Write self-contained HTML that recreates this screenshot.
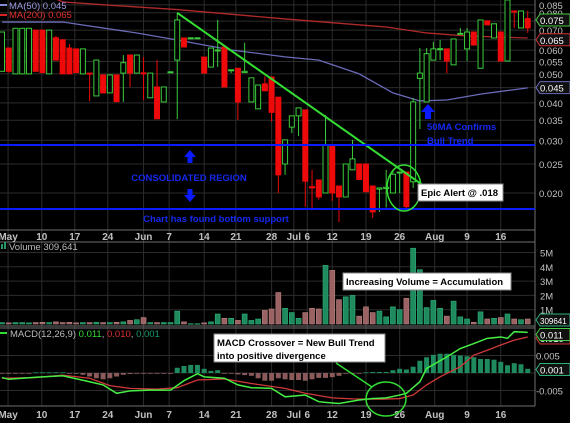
<!DOCTYPE html>
<html><head><meta charset="utf-8">
<style>
html,body{margin:0;padding:0;background:#000;}
svg{display:block;font-family:"Liberation Sans",sans-serif;}
</style></head>
<body>
<svg id="chart" width="570" height="423" viewBox="0 0 570 423" xmlns="http://www.w3.org/2000/svg">
<rect x="0" y="0" width="570" height="423" fill="#000"/>
<g id="grid"></g>
<g id="main"></g>
<g id="vol"></g>
<g id="macd"></g>
<g id="axes"></g>
<g id="ann">
  <line x1="0" y1="145" x2="535" y2="145" stroke="#0a1cff" stroke-width="2"/>
  <line x1="0" y1="209" x2="535" y2="209" stroke="#0a1cff" stroke-width="2"/>
  <path d="M190,150 l-6,7 h3.5 v6 h5 v-6 h3.5 z" fill="#0a1cff"/>
  <path d="M190,202 l-6,-7 h3.5 v-6 h5 v6 h3.5 z" fill="#0a1cff"/>
  <text x="189" y="181" fill="#1428ee" font-size="9.5" font-weight="bold" text-anchor="middle">CONSOLIDATED REGION</text>
  <text x="216" y="222" fill="#1428ee" font-size="9.5" font-weight="bold" text-anchor="middle">Chart has found bottom support</text>
  <path d="M428,104 l-7,8 h4 v7 h6 v-7 h4 z" fill="#0a1cff"/>
  <text x="427" y="130" fill="#1428ee" font-size="9.5" font-weight="bold">50MA Confirms</text>
  <text x="427" y="144" fill="#1428ee" font-size="9.5" font-weight="bold">Bull Trend</text>
  <ellipse cx="404" cy="188" rx="17" ry="23" fill="none" stroke="#33dd33" stroke-width="1.5"/>
  <rect x="418" y="184" width="85" height="17" fill="#fff" stroke="#888"/>
  <text x="421" y="196" fill="#000" font-size="9.5" font-weight="bold">Epic Alert @ .018</text>
  <rect x="343" y="273" width="168" height="17" fill="#fff" stroke="#888"/>
  <text x="346" y="285" fill="#000" font-size="9.5" font-weight="bold">Increasing Volume = Accumulation</text>
  <rect x="214" y="334" width="171" height="28" fill="#fff" stroke="#888"/>
  <text x="217" y="346" fill="#000" font-size="9.5" font-weight="bold">MACD Crossover = New Bull Trend</text>
  <text x="217" y="359" fill="#000" font-size="9.5" font-weight="bold">into positive divergence</text>
  <line x1="336" y1="363" x2="372" y2="387" stroke="#33dd33" stroke-width="1.5"/>
  <ellipse cx="386" cy="399" rx="20" ry="17" fill="none" stroke="#33dd33" stroke-width="1.5"/>
</g>
<g>
  <line x1="0" y1="5" x2="7" y2="5" stroke="#8888dd" stroke-width="2"/>
  <text x="9" y="9" fill="#9a9ae0" font-size="9.5">MA(50) 0.045</text>
  <line x1="0" y1="15" x2="7" y2="15" stroke="#dd2222" stroke-width="2"/>
  <text x="9" y="18" fill="#e03030" font-size="9.5">MA(200) 0.065</text>
  <rect x="1" y="244" width="2" height="5" fill="#2a9a6a"/>
  <rect x="4" y="242" width="2" height="7" fill="#2a9a6a"/>
  <text x="9" y="250" fill="#bbb" font-size="9.5">Volume 309,641</text>
  <line x1="0" y1="333" x2="7" y2="333" stroke="#33dd33" stroke-width="2"/>
  <text x="10" y="337" font-size="9.5"><tspan fill="#bbb">MACD(12,26,9) </tspan><tspan fill="#33dd33">0.011</tspan><tspan fill="#bbb">, </tspan><tspan fill="#e03030">0.010</tspan><tspan fill="#bbb">, </tspan><tspan fill="#1a9a6a">0.001</tspan></text>
</g>
</svg>
<script>
const opens=[.051,.061,.050,.050,.050,.070,.070,.050,.066,.065,.061,.0606,.050,.0503,.0422,.0496,.0432,.0496,.0503,.0578,.0503,.0504,.0416,.0452,.0403,.0506,.0556,.0659,.0659,.0659,.0569,.0527,.0598,.0615,.0514,.0522,.0505,.0403,.0382,.0463,.0488,.0418,.025,.0332,.0362,.0379,.021,.0221,.020,.029,.0211,.0194,.0239,.025,.025,.0211,.0206,.0207,.020,.0234,.0235,.0218,.0483,.0403,.0556,.0605,.0606,.0536,.068,.0606,.069,.0522,.0752,.0659,.069,.0552,.0811,.0712,.0765];
const closes=[.069,.051,.071,.071,.071,.051,.0505,.070,.0556,.050,.050,.0505,.0606,.0502,.0556,.0432,.0496,.0404,.0545,.0503,.0578,.0502,.0503,.0354,.0452,.0508,.0757,.0615,.066,.066,.0503,.061,.0601,.0452,.0516,.0403,.051,.0485,.0459,.0439,.0372,.023,.0301,.0362,.0385,.0219,.0208,.0194,.029,.020,.0194,.025,.026,.0222,.0202,.0173,.0208,.0209,.0231,.0235,.018,.0403,.0503,.0584,.0606,.0607,.0552,.0654,.0683,.069,.0624,.0757,.0729,.0735,.0552,.0883,.0808,.0811,.0712];
const highs=[.069,.061,.071,.071,.071,.070,.070,.070,.067,.065,.063,.0606,.0606,.0503,.0556,.0496,.0496,.0496,.0578,.0578,.0578,.0569,.0503,.0556,.0452,.051,.080,.0659,.066,.066,.0569,.061,.0757,.0615,.0516,.0522,.0635,.0485,.0459,.049,.0488,.0418,.0301,.0362,.0385,.0379,.0239,.0221,.0364,.029,.0211,.025,.0301,.025,.025,.0211,.0208,.0239,.0239,.0235,.0235,.0415,.061,.061,.064,.0649,.0606,.0654,.0712,.0712,.069,.0757,.0752,.0735,.069,.09,.0811,.0811,.0811];
const lows=[.051,.0505,.050,.050,.050,.051,.0505,.050,.0556,.050,.050,.0505,.050,.0405,.0422,.0432,.0432,.0404,.0403,.0452,.0503,.0409,.0416,.0354,.0403,.0506,.0353,.0615,.0659,.0659,.0503,.0527,.0527,.0452,.0503,.0351,.0505,.0403,.0382,.0439,.0346,.020,.023,.0317,.031,.018,.0175,.019,.020,.0188,.016,.0194,.0239,.0222,.0202,.0165,.0173,.0179,.020,.020,.0176,.0208,.0327,.0403,.0556,.0556,.0503,.0536,.068,.0552,.0624,.0522,.0729,.0659,.0552,.0552,.0712,.0712,.0685];
const volumes=[.1,.08,.1,.1,.08,.1,.12,.1,.15,.1,.12,.08,.1,.1,.12,.1,.1,.12,.15,.25,.3,.45,.1,.1,.1,.1,.9,.15,.02,.02,.08,.15,.7,.4,.4,.25,.7,.25,.35,.95,1.05,2.2,1.1,.8,.4,.8,1.1,1.05,4.1,3.75,1.7,1.9,2.0,.55,1.2,.8,.9,.5,1.2,1.0,1.8,5.3,3.8,1.15,1.65,1.1,.55,1.6,.5,.35,.12,.85,.35,.4,.45,.7,.35,.3,.35];
const ma50Idx=[0,9,20,26,34,42,47,53,58,62,66,71,78];
const ma50Vals=[.0745,.0745,.0685,.0649,.0601,.057,.0556,.050,.0432,.0406,.0409,.0428,.0449];
const ma200Idx=[8,9,17,26,42,57,63,69,78];
const ma200Vals=[.089,.087,.0845,.082,.0763,.0717,.0685,.0669,.0659];
const macdIdx=[0,1,5,9,13,15,17,19,22,25,27,29,30,33,35,37,40,42,45,47,48,50,53,55,57,59,60,62,63,66,68,70,72,74,75,76,78];
const macdVals=[-.0013,-.0018,-.0012,-.0008,-.0025,-.0034,-.0058,-.0051,-.0049,-.0049,-.0022,-.0002,-.0011,-.0015,-.0034,-.0042,-.0044,-.0068,-.0063,-.0082,-.0084,-.0087,-.0077,-.0073,-.0071,-.0063,-.0058,-.0025,.0013,.0046,.0070,.0084,.0099,.0103,.0099,.0118,.0116];
const sigIdx=[0,5,9,13,16,19,23,26,29,33,37,42,45,49,52,56,59,61,63,65,68,70,72,74,76,78];
const sigVals=[-.0015,-.0013,-.0006,-.0015,-.0036,-.0044,-.0046,-.0042,-.0020,-.0017,-.0030,-.0044,-.0058,-.0071,-.0074,-.0075,-.0073,-.0063,-.0034,-.0011,.0018,.0051,.0065,.0080,.0094,.0103];
const hist=[0,0,0,0,0,.0002,.0002,.0002,.0002,.0002,0,0,-.0005,-.001,-.0015,-.0018,-.0015,-.001,-.0005,-.0003,-.0002,-.0002,0,0,0,0,.0015,.002,.0023,.0023,.0012,.0006,.0008,0,-.0002,-.0004,-.0006,-.0008,-.0015,-.0022,-.0022,-.0015,-.0018,-.002,-.002,-.0022,-.0018,-.0014,-.0014,-.0012,-.0008,-.0002,0,0,.0002,.0003,.0003,.0003,.0008,.0012,.001,.0018,.0035,.0045,.0052,.0055,.0055,.0052,.005,.0048,.0045,.004,.004,.0038,.0032,.0022,.0028,.0025,.0012];
const priceTicks=[.085,.080,.075,.070,.065,.060,.055,.050,.045,.040,.035,.030,.025,.020];
const volTicks=[1,2,3,4,5];
const volTickLabels=["1M","2M","3M","4M","5M"];
const macdTicks=[.005,-.005];
const dateIdx=[0.9,5.9,10.8,15.7,21,24.8,30,34.7,40,43.3,45.3,49,54,59,64.2,69,74];
const dateLabels=["May","10","17","24","Jun","7","14","21","28","Jul","6","12","19","26","Aug","9","16"];

const NS="http://www.w3.org/2000/svg";
const X=i=>2+i*6.74;
const Y=p=>193-130*Math.log(p/0.02);
const VY=v=>324-v*14.3;
const MY=v=>373-v*3500;
function mk(parent,tag,attrs){const e=document.createElementNS(NS,tag);for(const k in attrs)e.setAttribute(k,attrs[k]);parent.appendChild(e);return e;}
const grid=document.getElementById('grid'),main=document.getElementById('main'),vol=document.getElementById('vol'),mac=document.getElementById('macd'),axes=document.getElementById('axes');
const GC="#2c2c2c";
priceTicks.forEach(p=>{const l=mk(grid,'line',{x1:0,x2:535,y1:Y(p),y2:Y(p),stroke:GC});

});
volTicks.forEach(v=>{const l=mk(grid,'line',{x1:0,x2:535,y1:VY(v),y2:VY(v),stroke:GC});

});
[.005,0,-.005].forEach(v=>{const l=mk(grid,'line',{x1:0,x2:535,y1:MY(v),y2:MY(v),stroke:GC});

});
dateIdx.forEach(d=>{const l=mk(grid,'line',{x1:X(d),x2:X(d),y1:0,y2:406,stroke:GC});

});
[[0,230,535,230],[0,242,535,242],[0,326,535,326],[0,328,535,328],[0,406,535,406],[535,0,535,406]].forEach(b=>{const l=mk(axes,'line',{x1:b[0],y1:b[1],x2:b[2],y2:b[3],stroke:'#707070'});

});
function poly(parent,idx,vals,fy,color,name,w){const pts=idx.map((d,k)=>X(d)+','+fy(vals[k])).join(' ');const e=mk(parent,'polyline',{points:pts,fill:'none',stroke:color,'stroke-width':w});

return e;}
poly(main,ma200Idx,ma200Vals,Y,'#b02a2a','ma200-line',1.3);
poly(main,ma50Idx,ma50Vals,Y,'#6a6ab8','ma50-line',1.3);
for(let i=0;i<opens.length;i++){
 const up=closes[i]>=opens[i];const col=up?'#3ccc3c':'#ee0a0a';const x=X(i);
 const g=mk(main,'g',{});
 
 
 mk(g,'line',{x1:x,x2:x,y1:Y(highs[i]),y2:Y(lows[i]),stroke:col,'stroke-width':1});
 const t=Y(Math.max(opens[i],closes[i])),b=Y(Math.min(opens[i],closes[i]));
 mk(g,'rect',{x:x-2.5,y:t,width:5,height:Math.max(1,b-t),fill:up?'#000':col,stroke:col,'stroke-width':1});
}
const tl=mk(main,'line',{x1:X(26),y1:Y(.080),x2:X(62.5),y2:Y(.0212),stroke:'#33dd33','stroke-width':2});


for(let i=0;i<volumes.length;i++){const up=closes[i]>=opens[i];
 const r=mk(vol,'rect',{x:X(i)-2.5,y:VY(volumes[i]),width:5,height:Math.max(0.5,324-VY(volumes[i])),fill:up?'#1e8a5e':'#9a6262',stroke:up?'#2fb07a':'#b88080','stroke-width':0.6});
 
 }
for(let i=0;i<hist.length;i++){const v=hist[i];const y0=MY(0),y1=MY(v);
 const r=mk(mac,'rect',{x:X(i)-2.5,y:Math.min(y0,y1),width:5,height:Math.max(0.8,Math.abs(y1-y0)),fill:v>0?'#1e8a5e':'#8a5a5a'});
 
 }
poly(mac,sigIdx,sigVals,MY,'#d03a3a','macd-signal-line',1.3);
poly(mac,macdIdx,macdVals,MY,'#44ee44','macd-line',1.5);
function txt(parent,x,y,s,name,attrs){const e=mk(parent,'text',Object.assign({x:x,y:y,fill:'#c0c0c0','font-size':9.5},attrs||{}));e.textContent=s;
 
 return e;}
priceTicks.forEach(p=>txt(axes,539,Y(p)+4,p.toFixed(3),'price-tick-label'));
volTicks.forEach((v,k)=>txt(axes,540,VY(v)+4,volTickLabels[k],'volume-tick-label'));
macdTicks.forEach(v=>txt(axes,536,MY(v)+4,v.toFixed(3),'macd-tick-label'));
dateIdx.forEach((d,k)=>{txt(axes,X(d),240,dateLabels[k],'date-label-top',{'text-anchor':'middle','font-weight':'bold','font-size':10});
 txt(axes,X(d),418,dateLabels[k],'date-label-bottom',{'text-anchor':'middle','font-weight':'bold','font-size':10});});
function box(y,s,col,name,fs){const r=mk(axes,'path',{d:`M536,${y} l4,-6 h30 v12 h-30 z`,fill:'#111',stroke:col});
 
 
 txt(axes,540,y+4,s,name,{fill:'#fff','font-size':fs||9.5});}
box(Y(.0757),'0.075','#44cc44','last-price-label');
box(Y(.065),'0.065','#cc3333','ma200-value-label');
box(Y(.045),'0.045','#6a6ab8','ma50-value-label');
box(320,'309641','#2fb07a','volume-value-label',8);
box(MY(.010),'0.010','#cc3333','signal-value-label');
box(MY(.011),'0.011','#44cc44','macd-value-label');
box(MY(.001),'0.001','#2fb07a','histogram-value-label');
</script>
</body></html>
